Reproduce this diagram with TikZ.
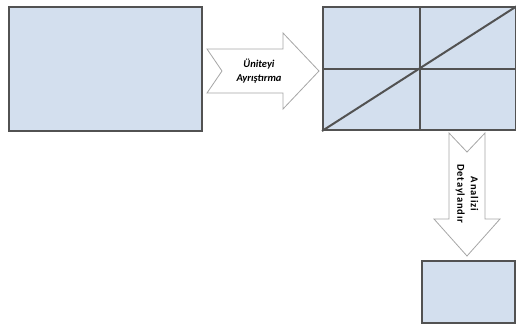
\documentclass[tikz,border=0pt]{standalone}
\usepackage{fontspec}
\setmainfont{Carlito}
\begin{document}
\begin{tikzpicture}[x=1pt,y=-1pt,
  box/.style={draw=black!68,line width=2pt,fill=boxfill,minimum width=#1,inner sep=0pt,anchor=north west},
  grid/.style={draw=black!68,line width=2pt},
  bigarrow/.style={draw=black!35,line width=0.8pt,fill=white},
  lbl/.style={align=center,inner sep=0pt,text=black}]
\definecolor{boxfill}{HTML}{D3DFEE}
\useasboundingbox (0,0) rectangle (516,324);
% left box
\node[box=193pt,minimum height=124pt] (src) at (8,6) {};
% split box
\node[box=193pt,minimum height=123pt] (split) at (322,6) {};
\draw[grid] (split.north) -- (split.south);
\draw[grid] (split.west) -- (split.east);
\draw[grid] (split.south west) -- (split.north east);
% bottom box
\node[box=93pt,minimum height=62pt] (res) at (421,260) {};
% right arrow
\draw[bigarrow] (207,49) -- (283,49) -- (283,33) -- (319,71) -- (283,109) -- (283,93) -- (207,93) -- (222,71) -- cycle;
\node[lbl,font=\fontsize{10.5}{13.5}\selectfont\bfseries\itshape] (t1) at (259,71) {Üniteyi\\Ayrıştırma};
% down arrow
\draw[bigarrow] (449,133) -- (467,152) -- (485,133) -- (485,219) -- (500,219) -- (467,256) -- (434,219) -- (449,219) -- cycle;
\node[lbl,rotate=-90,font=\fontsize{10.5}{13.5}\selectfont\bfseries\addfontfeature{LetterSpace=8}] (t2) at (467,194) {Analizi\\Detaylandır};
\end{tikzpicture}
\end{document}
